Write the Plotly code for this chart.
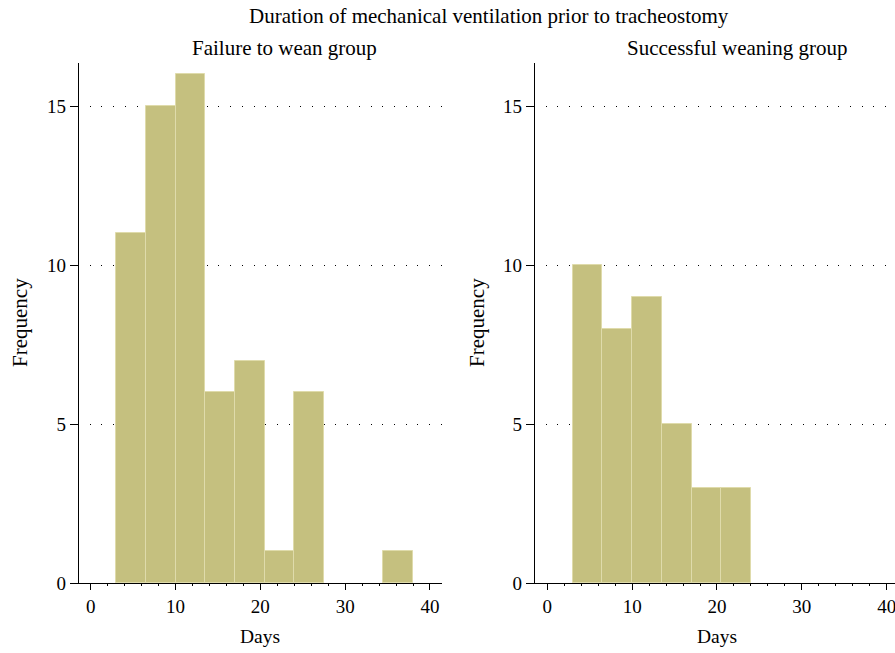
import plotly.graph_objects as go

# Histogram bins (days) and counts per group
fail_edges = [3, 6.5, 10, 13.5, 17, 20.5, 24, 27.5, 31, 34.5, 38]
fail_counts = [11, 15, 16, 6, 7, 1, 6, 0, 0, 1]

success_edges = [3, 6.5, 10, 13.5, 17, 20.5, 24]
success_counts = [10, 8, 9, 5, 3, 3]

x_ticks = [0, 10, 20, 30, 40]
y_ticks = [0, 5, 10, 15]

main_title = "Duration of mechanical ventilation prior to tracheostomy"
panel_titles = ["Failure to wean group", "Successful weaning group"]

FONT = "Liberation Serif"
BAR_FILL = "#c5c07f"
BAR_EDGE = "#dfdbab"


def bar_trace(edges, counts, xaxis, yaxis):
    xs, ws, ys = [], [], []
    for lo, hi, c in zip(edges[:-1], edges[1:], counts):
        if c > 0:
            xs.append((lo + hi) / 2)
            ws.append(hi - lo)
            ys.append(c)
    return go.Bar(
        x=xs, y=ys, width=ws, xaxis=xaxis, yaxis=yaxis,
        marker=dict(color=BAR_FILL, line=dict(color=BAR_EDGE, width=1)),
        showlegend=False, hoverinfo="x+y",
    )


fig = go.Figure()
fig.add_trace(bar_trace(fail_edges, fail_counts, "x", "y"))
fig.add_trace(bar_trace(success_edges, success_counts, "x2", "y2"))

W, H = 895, 653
top, bottom = 62.7, 582.7

xcommon = dict(
    tickvals=x_ticks, ticks="outside", ticklen=6, tickwidth=1.2, tickcolor="black",
    showline=True, linecolor="black", linewidth=1.3, showgrid=False, zeroline=False,
    tickfont=dict(family=FONT, size=19, color="black"), ticklabeloverflow="allow",
    minor=dict(dtick=2, ticks="outside", ticklen=2, tickcolor="black", showgrid=False),
)
ycommon = dict(
    range=[0, 16.36], tickvals=y_ticks, ticks="outside", ticklen=8, tickwidth=1.2,
    tickcolor="black", showline=True, linecolor="black", linewidth=1.3,
    showgrid=True, gridcolor="black", gridwidth=1, griddash="0px,10.7px,1px,0px",
    zeroline=False, tickfont=dict(family=FONT, size=19, color="black"),
)

fig.update_layout(
    width=W, height=H,
    margin=dict(l=0, r=0, t=top, b=H - bottom, pad=0),
    paper_bgcolor="white", plot_bgcolor="white",
    bargap=0,
    xaxis=dict(domain=[79 / W, 441.7 / W], range=[-1.38, 41.38], anchor="y", **xcommon),
    yaxis=dict(domain=[0, 1], anchor="x", **ycommon),
    xaxis2=dict(domain=[535 / W, 1.0], range=[-1.45, 40.98], anchor="y2", **xcommon),
    yaxis2=dict(domain=[0, 1], anchor="x2", **ycommon),
)


def py(ypx):
    # pixel row -> paper coordinate (paper spans the plotting area)
    return (bottom - ypx) / (bottom - top)


annotations = [
    dict(text=main_title, x=489, y=16, size=21),
    dict(text=panel_titles[0], x=284.5, y=48, size=21),
    dict(text=panel_titles[1], x=737, y=48, size=21),
    dict(text="Days", x=260, y=636, size=19.5),
    dict(text="Days", x=716.7, y=636, size=19.5),
]
for a in annotations:
    fig.add_annotation(
        text=a["text"], xref="paper", yref="paper", x=a["x"] / W, y=py(a["y"]),
        xanchor="center", yanchor="middle", showarrow=False,
        font=dict(family=FONT, size=a["size"], color="black"),
    )
for fx in (20, 477):
    fig.add_annotation(
        text="Frequency", xref="paper", yref="paper", x=fx / W, y=py(322.7),
        xanchor="center", yanchor="middle", showarrow=False, textangle=-90,
        font=dict(family=FONT, size=21, color="black"),
    )

fig.write_html("out.html")
